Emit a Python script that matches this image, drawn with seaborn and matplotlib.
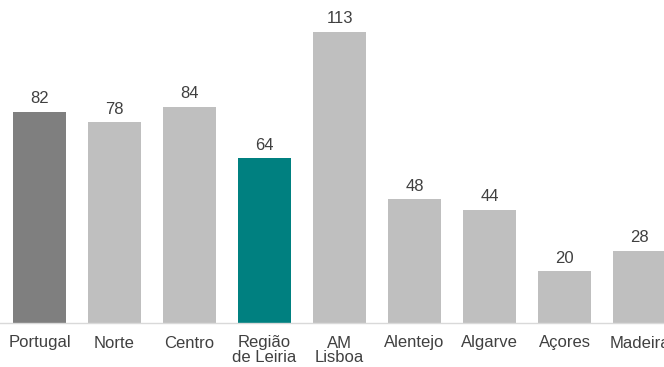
import matplotlib
matplotlib.use("Agg")
import matplotlib.pyplot as plt
import seaborn as sns
import pandas as pd

# Data
regions = ["Portugal", "Norte", "Centro", "Região\nde Leiria", "AM\nLisboa",
           "Alentejo", "Algarve", "Açores", "Madeira"]
values = [82, 78, 84, 64, 113, 48, 44, 20, 28]
colors = ["#7f7f7f", "#bfbfbf", "#bfbfbf", "#008080", "#bfbfbf",
          "#bfbfbf", "#bfbfbf", "#bfbfbf", "#bfbfbf"]

df = pd.DataFrame({"region": regions, "value": values})

sns.set_style("white")
plt.rcParams["font.family"] = ["Liberation Sans", "DejaVu Sans"]

fig = plt.figure(figsize=(6.64, 3.67), dpi=100)
ax = fig.add_axes([0, 44 / 367, 1, 323 / 367])

sns.barplot(data=df, x="region", y="value", hue="region", palette=colors,
            width=0.707, legend=False, saturation=1, linewidth=0, ax=ax)

for c in ax.containers:
    ax.bar_label(c, padding=4, fontsize=12, color="#404040")

ax.set_xlim(-39.5 / 75, (664 - 39.5) / 75)
ax.set_ylim(0, 125.4)
ax.set_xlabel("")
ax.set_ylabel("")
ax.set_yticks([])
for s in ["top", "left", "right"]:
    ax.spines[s].set_visible(False)
ax.spines["bottom"].set_color("#d9d9d9")
ax.spines["bottom"].set_linewidth(1)
ax.tick_params(axis="x", length=0, pad=9, labelsize=12, labelcolor="#404040")
for t in ax.get_xticklabels():
    t.set_verticalalignment("top")
    t.set_linespacing(1.0)

fig.savefig("out.png", dpi=100)
